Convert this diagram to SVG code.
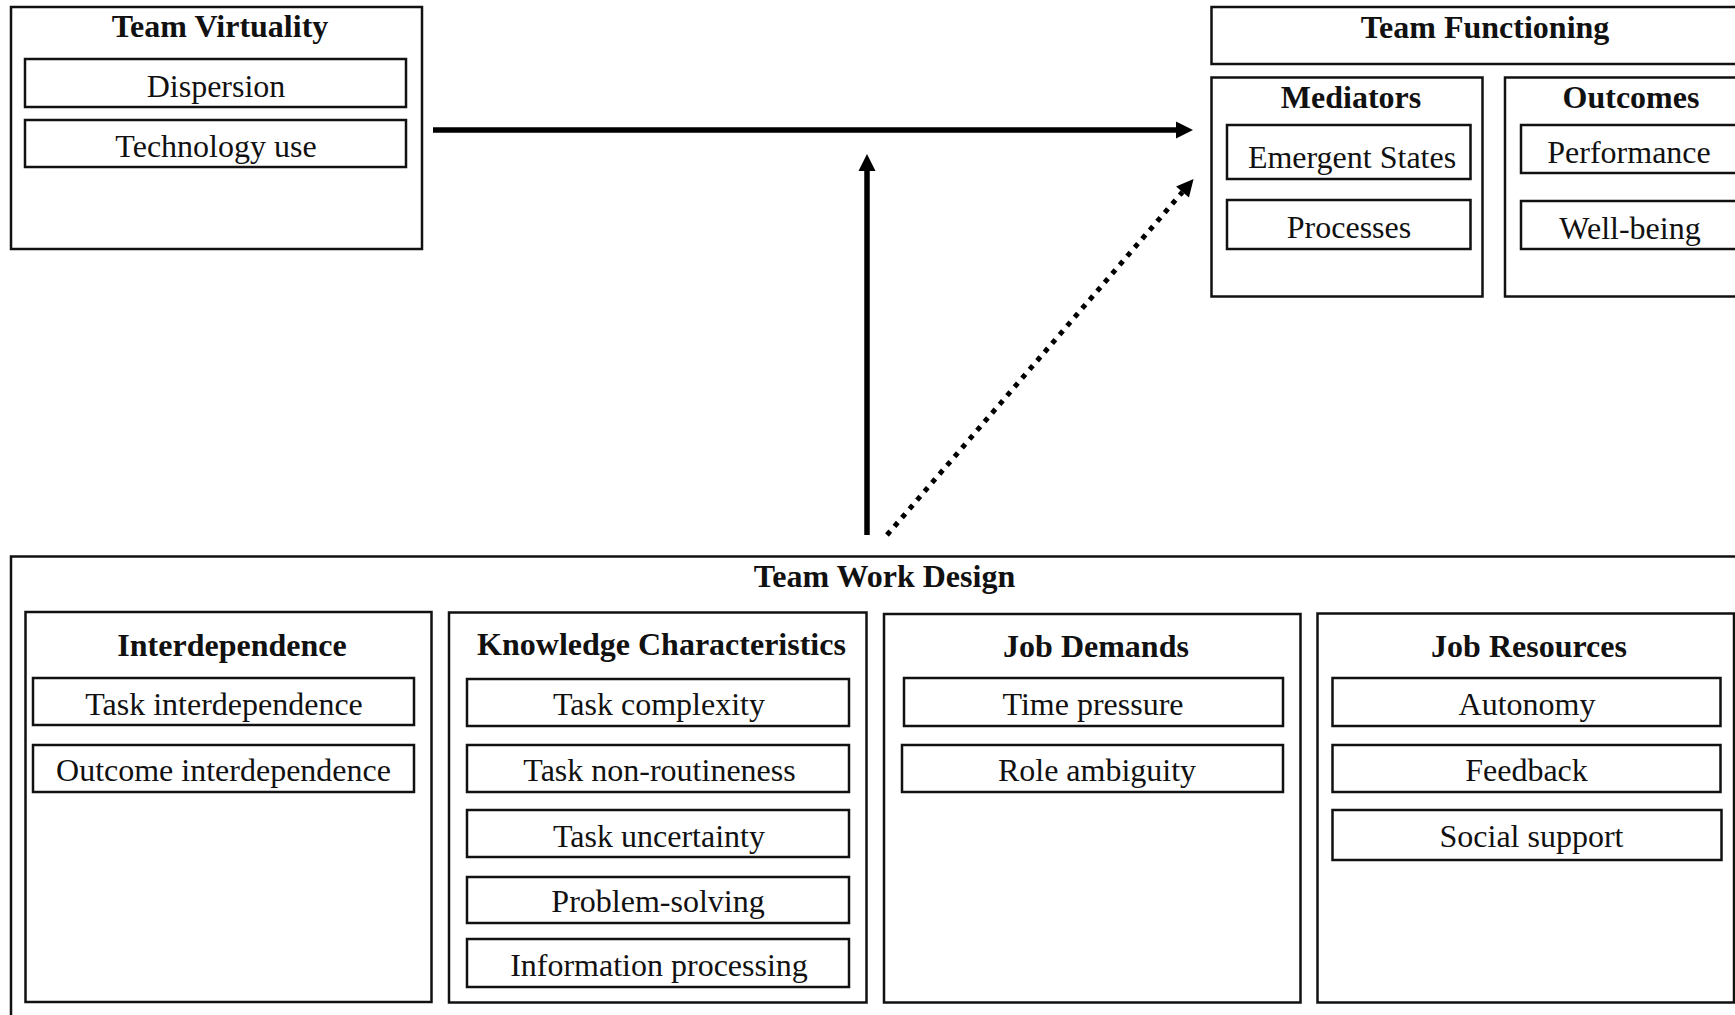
<svg xmlns="http://www.w3.org/2000/svg" width="1735" height="1015" viewBox="0 0 1735 1015">
<style>
.box{fill:#fff;stroke:#111;stroke-width:2.5}
.t{font-family:"Liberation Serif","Times New Roman",serif;font-size:32px;fill:#111;text-anchor:middle}
.b{font-weight:bold}
.ln{stroke:#000;stroke-width:5.5;fill:none}
.dot{stroke:#000;stroke-width:5;fill:none;stroke-dasharray:5 6.5}
</style>
<defs>
<marker id="ah" markerUnits="userSpaceOnUse" markerWidth="18" markerHeight="18" refX="0" refY="8.5" orient="auto" overflow="visible">
<path d="M0,0 L17,8.5 L0,17 Z" fill="#000"/>
</marker>
</defs>
<rect width="1735" height="1015" fill="#fff"/>

<g id="team-virtuality">
<rect class="box" x="11" y="7" width="411" height="242"/>
<text class="t b" x="220" y="37">Team Virtuality</text>
<rect class="box" x="25" y="59" width="381" height="48"/>
<text class="t" x="216" y="97">Dispersion</text>
<rect class="box" x="25" y="120" width="381" height="47"/>
<text class="t" x="216" y="157">Technology use</text>
</g>

<g id="team-functioning">
<rect class="box" x="1211.5" y="7" width="540" height="57"/>
<text class="t b" x="1485" y="38">Team Functioning</text>
</g>

<g id="mediators">
<rect class="box" x="1211.5" y="77.5" width="271" height="219"/>
<text class="t b" x="1351" y="108">Mediators</text>
<rect class="box" x="1227" y="125" width="243.5" height="54"/>
<text class="t" x="1352" y="168">Emergent States</text>
<rect class="box" x="1227" y="200" width="243.5" height="49"/>
<text class="t" x="1349" y="238">Processes</text>
</g>

<g id="outcomes">
<rect class="box" x="1505" y="77.5" width="240" height="219"/>
<text class="t b" x="1631" y="108">Outcomes</text>
<rect class="box" x="1521" y="125" width="220" height="48"/>
<text class="t" x="1629" y="163">Performance</text>
<rect class="box" x="1521" y="201" width="220" height="48"/>
<text class="t" x="1630" y="239">Well-being</text>
</g>

<g id="team-work-design">
<rect class="box" x="11" y="556.5" width="1740" height="470"/>
<text class="t b" x="884.5" y="587">Team Work Design</text>
</g>

<g id="interdependence">
<rect class="box" x="25.5" y="612" width="406" height="390"/>
<text class="t b" x="232" y="656">Interdependence</text>
<rect class="box" x="33" y="678" width="381" height="47"/>
<text class="t" x="224" y="715">Task interdependence</text>
<rect class="box" x="33" y="745" width="381" height="47"/>
<text class="t" x="223.5" y="781">Outcome interdependence</text>
</g>

<g id="knowledge-characteristics">
<rect class="box" x="449" y="612.5" width="417.5" height="390"/>
<text class="t b" x="661.5" y="655">Knowledge Characteristics</text>
<rect class="box" x="467" y="679" width="382" height="47"/>
<text class="t" x="659" y="715">Task complexity</text>
<rect class="box" x="467" y="745" width="382" height="47"/>
<text class="t" x="659.5" y="781">Task non-routineness</text>
<rect class="box" x="467" y="810" width="382" height="47"/>
<text class="t" x="659" y="847">Task uncertainty</text>
<rect class="box" x="467" y="877" width="382" height="46"/>
<text class="t" x="658" y="912">Problem-solving</text>
<rect class="box" x="467" y="939" width="382" height="48"/>
<text class="t" x="659" y="976">Information processing</text>
</g>

<g id="job-demands">
<rect class="box" x="884" y="614" width="416.5" height="388.5"/>
<text class="t b" x="1096" y="657">Job Demands</text>
<rect class="box" x="904" y="678" width="379" height="48"/>
<text class="t" x="1093" y="715">Time pressure</text>
<rect class="box" x="902" y="745" width="381" height="47"/>
<text class="t" x="1097" y="781">Role ambiguity</text>
</g>

<g id="job-resources">
<rect class="box" x="1317.5" y="613.5" width="416.5" height="389"/>
<text class="t b" x="1529" y="657">Job Resources</text>
<rect class="box" x="1332.5" y="678" width="388" height="48"/>
<text class="t" x="1527" y="715">Autonomy</text>
<rect class="box" x="1332.5" y="745" width="388" height="47"/>
<text class="t" x="1526.5" y="781">Feedback</text>
<rect class="box" x="1332.5" y="810" width="389" height="50"/>
<text class="t" x="1531.5" y="847">Social support</text>
</g>

<g id="connectors">
<line class="ln" x1="433" y1="130" x2="1176" y2="130" marker-end="url(#ah)"/>
<line class="ln" x1="867" y1="535" x2="867" y2="171" marker-end="url(#ah)"/>
<line class="dot" x1="887" y1="535" x2="1182.5" y2="192" marker-end="url(#ah)"/>
</g>
</svg>
